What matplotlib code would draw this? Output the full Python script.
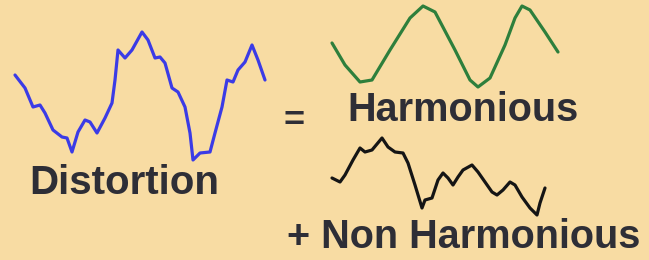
import matplotlib
matplotlib.use("Agg")
import matplotlib.pyplot as plt

# Distortion waveform (blue)
dist_x = [15, 25, 33, 40, 45, 53, 62, 67, 72, 78, 85, 90, 97, 105, 112, 115, 118, 125, 132, 142,
          148, 155, 160, 165, 172, 178, 185, 190, 193, 200, 210, 215, 222, 227, 233, 238, 245, 252, 258, 265]
dist_y = [75, 88, 107, 105, 113, 130, 137, 138, 152, 132, 120, 122, 133, 118, 103, 80, 50, 58, 50, 32,
          40, 58, 57, 63, 88, 92, 107, 133, 160, 153, 152, 133, 107, 80, 82, 70, 62, 45, 60, 80]

# Harmonious waveform (green)
harm_x = [332, 345, 360, 372, 390, 410, 423, 435, 455, 470, 478, 490, 505, 515, 522, 530, 545, 558]
harm_y = [43, 65, 82, 80, 50, 18, 6, 12, 50, 80, 87, 78, 45, 18, 6, 10, 32, 52]

# Non harmonious waveform (black)
non_x = [332, 340, 345, 353, 360, 365, 372, 382, 388, 395, 403, 408, 415, 422, 425, 432, 438, 443,
         448, 453, 458, 463, 472, 478, 485, 492, 497, 503, 510, 515, 522, 530, 537, 540, 545]
non_y = [178, 182, 175, 160, 148, 152, 150, 138, 147, 152, 153, 163, 185, 208, 200, 198, 180, 173,
         178, 185, 177, 170, 165, 172, 182, 192, 195, 190, 182, 185, 197, 208, 215, 203, 188]

labels = ["Distortion", "=", "Harmonious", "+ Non Harmonious"]

bg = "#F8DCA3"
txt = "#2E2E36"

fig = plt.figure(figsize=(6.49, 2.60), dpi=100, facecolor=bg)
ax = fig.add_axes([0, 0, 1, 1])
ax.set_facecolor(bg)
ax.set_xlim(0, 649)
ax.set_ylim(260, 0)
ax.axis("off")

ax.plot(dist_x, dist_y, color="#3B3BE6", lw=2.3, solid_joinstyle="round", solid_capstyle="round")
ax.plot(harm_x, harm_y, color="#2E7F3C", lw=2.3, solid_joinstyle="round", solid_capstyle="round")
ax.plot(non_x, non_y, color="#151515", lw=2.3, solid_joinstyle="round", solid_capstyle="round")

font = dict(family=["Liberation Sans", "DejaVu Sans"], fontweight="bold", color=txt)
ax.text(124, 183, labels[0], ha="center", va="center", fontsize=29, **font)
ax.text(294, 121, labels[1], ha="center", va="center", fontsize=26, **font)
ax.text(463, 110, labels[2], ha="center", va="center", fontsize=28.5, **font)
ax.text(464, 237, labels[3], ha="center", va="center", fontsize=28.5, **font)

fig.savefig("out.png", dpi=100, facecolor=bg)
